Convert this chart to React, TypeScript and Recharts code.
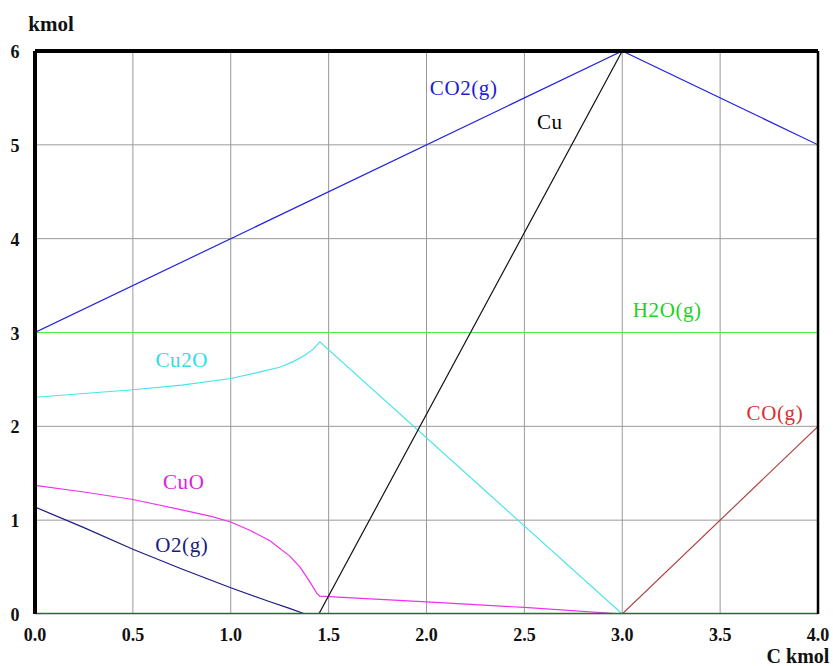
import React from "react";
import {
  LineChart,
  Line,
  XAxis,
  YAxis,
  CartesianGrid,
  ReferenceLine,
  ReferenceDot,
} from "recharts";

// Equilibrium amounts (kmol) versus added carbon (kmol)
const co2X = [0, 3.0, 4.0];
const co2Y = [3, 6, 5];

const h2oX = [0, 4.0];
const h2oY = [3, 3];

const cuX = [1.45, 3.0];
const cuY = [0, 6];

const cu2oX = [0, 0.25, 0.5, 0.75, 1.0, 1.15, 1.25, 1.32, 1.38, 1.42, 1.455, 3.0, 4.0];
const cu2oY = [2.31, 2.35, 2.39, 2.44, 2.51, 2.58, 2.63, 2.69, 2.76, 2.82, 2.9, 0, 0];

const cuoX = [0, 0.25, 0.5, 0.75, 0.9, 1.0, 1.1, 1.2, 1.3, 1.354, 1.405, 1.44, 1.455, 2.0, 2.5, 3.0];
const cuoY = [1.37, 1.3, 1.22, 1.11, 1.04, 0.98, 0.89, 0.78, 0.62, 0.5, 0.34, 0.22, 0.19, 0.13, 0.07, 0];

const o2X = [0, 0.25, 0.5, 0.75, 1.0, 1.2, 1.3, 1.38];
const o2Y = [1.14, 0.92, 0.69, 0.48, 0.28, 0.13, 0.06, 0];

const coX = [3.0, 4.0];
const coY = [0, 2];

const baseX = [0, 4.0];
const baseY = [0, 0];

const xTicks = [0, 0.5, 1.0, 1.5, 2.0, 2.5, 3.0, 3.5, 4.0];
const yTicks = [0, 1, 2, 3, 4, 5, 6];

const seriesNames = ["CO2(g)", "Cu", "H2O(g)", "Cu2O", "CO(g)", "CuO", "O2(g)"];
const labelX = [2.19, 2.63, 3.23, 0.75, 3.78, 0.76, 0.75];
const labelY = [5.61, 5.24, 3.24, 2.71, 2.14, 1.41, 0.735];
const labelColors = ["#1c1cd8", "#000000", "#22d022", "#30dede", "#d83030", "#e020e0", "#1a1a80"];

const toPoints = (xs: number[], ys: number[]) => xs.map((x, i) => ({ x, v: ys[i] }));

const SERIF = "'Liberation Serif', 'Times New Roman', serif";

const series = [
  { name: "CO2(g)", data: toPoints(co2X, co2Y), color: "#2222e0", width: 1.2 },
  { name: "H2O(g)", data: toPoints(h2oX, h2oY), color: "#44f044", width: 1.2 },
  { name: "Cu2O", data: toPoints(cu2oX, cu2oY), color: "#48e4ec", width: 1.2 },
  { name: "CuO", data: toPoints(cuoX, cuoY), color: "#f030f0", width: 1.2 },
  { name: "O2(g)", data: toPoints(o2X, o2Y), color: "#1c1c84", width: 1.2 },
  { name: "Cu", data: toPoints(cuX, cuY), color: "#111111", width: 1.2 },
  { name: "CO(g)", data: toPoints(coX, coY), color: "#b04444", width: 1.2 },
  { name: "C", data: toPoints(baseX, baseY), color: "#008a00", width: 2.5 },
];

const XTick = (props: any) => {
  const { x, y, payload } = props;
  return (
    <text x={x} y={y} dy={27} textAnchor="middle" fontFamily={SERIF} fontSize={18} fontWeight="bold" fill="#111">
      {Number(payload.value).toFixed(1)}
    </text>
  );
};

const YTick = (props: any) => {
  const { x, y, payload } = props;
  return (
    <text x={x - 20} y={y} dy={7} textAnchor="middle" fontFamily={SERIF} fontSize={18} fontWeight="bold" fill="#111">
      {payload.value}
    </text>
  );
};

export default function App() {
  return (
    <div style={{ position: "absolute", left: 0, top: 0, width: 833, height: 666, background: "#fff" }}>
      <LineChart width={833} height={666} margin={{ top: 51, right: 15, bottom: 0, left: 0 }}>
        <CartesianGrid stroke="#9a9a9a" strokeWidth={1} />
        <XAxis
          type="number"
          dataKey="x"
          domain={[0, 4]}
          ticks={xTicks}
          allowDataOverflow
          axisLine={false}
          tickLine={false}
          tickSize={0}
          tickMargin={0}
          height={52}
          tick={<XTick />}
          label={{
            content: (p: any) => {
              const vb = p.viewBox;
              return (
                <text x={vb.x + vb.width - 20} y={vb.y + 49} textAnchor="middle" fontFamily={SERIF} fontSize={20} fontWeight="bold" fill="#111">
                  C kmol
                </text>
              );
            },
          }}
        />
        <YAxis
          type="number"
          dataKey="v"
          domain={[0, 6]}
          ticks={yTicks}
          allowDataOverflow
          axisLine={false}
          tickLine={false}
          tickSize={0}
          tickMargin={0}
          width={35}
          tick={<YTick />}
          label={{
            content: (p: any) => {
              const vb = p.viewBox;
              return (
                <text x={vb.x + vb.width + 16} y={vb.y - 20} textAnchor="middle" fontFamily={SERIF} fontSize={21} fontWeight="bold" fill="#111">
                  kmol
                </text>
              );
            },
          }}
        />
        {series.map((s) => (
          <Line
            key={s.name}
            data={s.data}
            dataKey="v"
            name={s.name}
            type="linear"
            stroke={s.color}
            strokeWidth={s.width}
            dot={false}
            activeDot={false}
            isAnimationActive={false}
          />
        ))}
        <ReferenceLine y={6} stroke="#000" strokeWidth={4} />
        <ReferenceLine x={0} stroke="#000" strokeWidth={4} />
        <ReferenceLine x={4} stroke="#000" strokeWidth={2.5} />
        {seriesNames.map((name, i) => (
          <ReferenceDot
            key={name}
            x={labelX[i]}
            y={labelY[i]}
            r={0}
            shape={(p: any) => (
              <text x={p.cx} y={p.cy} dy={7} textAnchor="middle" fontFamily={SERIF} fontSize={21} letterSpacing={0.6} fill={labelColors[i]}>
                {name}
              </text>
            )}
          />
        ))}
      </LineChart>
    </div>
  );
}
